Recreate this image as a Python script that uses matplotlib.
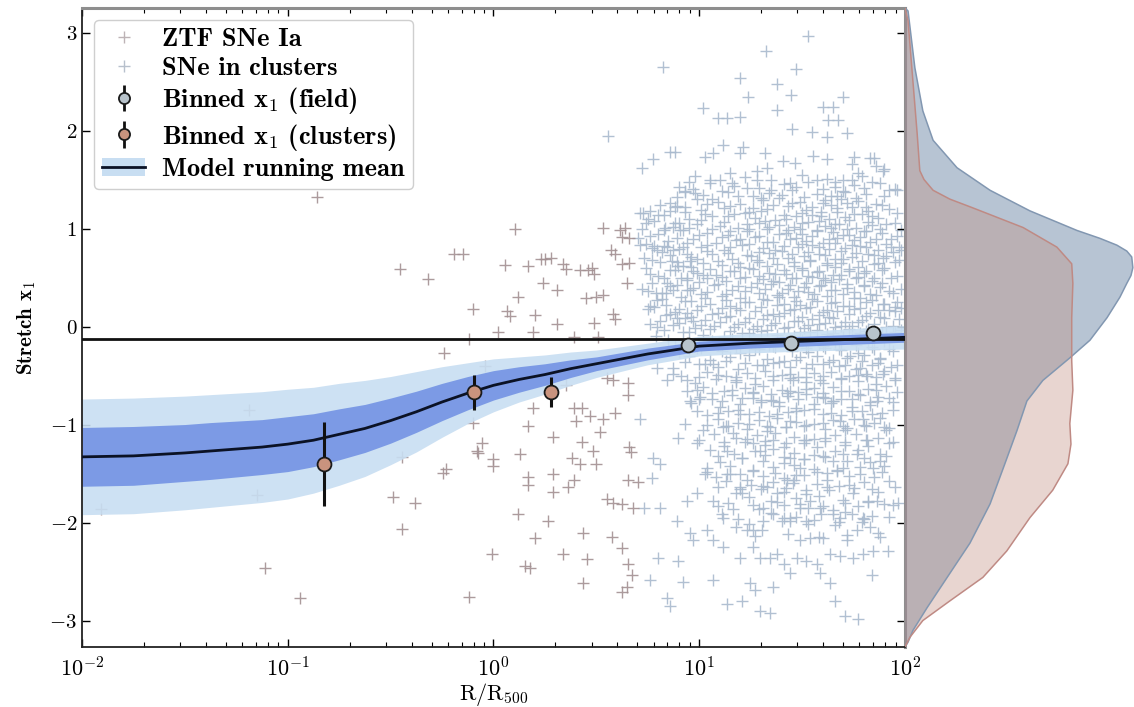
import numpy as np
import matplotlib
matplotlib.use("Agg")
import matplotlib.pyplot as plt
from matplotlib.ticker import FuncFormatter, LogLocator, NullFormatter
from matplotlib.patches import Patch
from matplotlib.lines import Line2D

plt.rcParams['font.family'] = 'cmb10'
plt.rcParams['mathtext.fontset'] = 'cm'
plt.rcParams['axes.unicode_minus'] = False
plt.rcParams['axes.formatter.use_mathtext'] = True

# ---- SNe in / near clusters: (log10 R/R500, x1) ----
cluster_pts = [
    (-0.86, 1.32), (-0.455, 0.59), (-0.32, 0.48), (-0.19, 0.74), (-0.15, 0.74),
    (-0.10, 0.18), (-0.12, -0.13), (-0.24, -0.27), (-1.19, -0.85), (-0.10, -0.98),
    (-0.445, -1.33), (-0.23, -1.45), (-0.245, -1.49), (-0.08, -1.27), (-1.15, -1.72),
    (-1.91, -1.86), (-0.49, -1.74), (-0.38, -1.80), (-0.445, -2.07), (-1.11, -2.46),
    (-0.94, -2.77), (-0.12, -2.76),
    (0.105, 1.00), (0.056, 0.63), (0.17, 0.62), (0.23, 0.69), (0.25, 0.69), (0.28, 0.70),
    (0.34, 0.64), (0.35, 0.59), (0.42, 0.58), (0.46, 0.58), (0.48, 0.60), (0.49, 0.54),
    (0.53, 1.01), (0.615, 0.98), (0.64, 1.01), (0.625, 0.91), (0.66, 0.90), (0.57, 0.78),
    (0.59, 0.74), (0.625, 0.64), (0.66, 0.65), (0.24, 0.44), (0.31, 0.37), (0.12, 0.30),
    (0.066, 0.16), (0.08, 0.11), (0.20, 0.12), (0.31, 0.03), (0.45, 0.29), (0.50, 0.30),
    (0.53, 0.32), (0.49, 0.04), (0.58, 0.13), (0.59, 0.08), (0.65, 0.44),
    (0.02, -0.06), (0.19, -0.06), (0.39, -0.11), (0.51, -0.11), (-0.04, -0.40),
    (0.55, -0.53), (0.58, -0.55), (0.655, -0.58), (0.655, -0.70), (0.35, -0.60),
    (0.19, -0.83), (0.39, -0.83), (0.43, -0.83), (0.47, -0.91), (0.59, -0.88),
    (0.53, -0.94), (0.17, -1.01), (0.40, -0.96), (0.52, -1.08), (-0.056, -1.19),
    (-0.075, -1.29), (0.0, -1.35), (0.0, -1.42), (0.13, -1.30), (0.29, -1.13),
    (0.43, -1.18), (0.485, -1.27), (0.50, -1.40), (0.38, -1.34), (0.42, -1.40),
    (0.17, -1.54), (0.17, -1.62), (0.29, -1.50), (0.29, -1.69), (0.36, -1.64),
    (0.39, -1.57), (0.66, -1.23), (0.67, -1.28), (0.655, -1.57), (0.70, -1.59),
    (0.12, -1.91), (0.265, -1.98), (0.55, -1.76), (0.58, -1.80), (0.625, -1.81),
    (0.68, -1.85), (0.20, -2.16), (0.435, -2.11), (0.576, -2.15), (0.625, -2.26),
    (-0.007, -2.32), (0.153, -2.44), (0.177, -2.46), (0.338, -2.32), (0.454, -2.37),
    (0.655, -2.42), (0.673, -2.54), (0.649, -2.66), (0.625, -2.71), (0.435, -2.62),
]

# ---- field SNe Ia: (log10 R/R500, x1) ----
field_pts = [
    # sparse upper tail
    (1.53, 2.96), (1.325, 2.81), (0.824, 2.65), (1.20, 2.54), (1.47, 2.63), (1.378, 2.47),
    (1.237, 2.34), (1.446, 2.36), (1.70, 2.34), (1.018, 2.23), (1.09, 2.13), (1.135, 2.13),
    (1.20, 2.14), (1.378, 2.21), (1.60, 2.24), (1.65, 2.24), (1.626, 2.11), (1.674, 2.11),
    (1.45, 2.02), (1.548, 1.98), (1.62, 1.93), (1.718, 1.97), (0.557, 1.94), (1.115, 1.85),
    (1.212, 1.83), (0.882, 1.78), (0.858, 1.78), (1.067, 1.77), (1.028, 1.73), (0.775, 1.71),
    (0.72, 1.62), (1.32, 1.77), (1.407, 1.69), (1.465, 1.67), (1.553, 1.74), (1.62, 1.71),
    (1.75, 1.73), (1.83, 1.72), (1.85, 1.72), (1.90, 1.61), (1.77, 1.57), (1.95, 1.40),
    (1.20, 1.77), (1.33, 1.62), (1.15, 1.57), (1.28, 1.59), (1.74, 1.66), (1.86, 1.64),
    # dense core
    (0.98, 1.54), (1.10, 1.50), (1.22, 1.53), (1.35, 1.49), (1.50, 1.55), (1.62, 1.51), (1.70, 1.49), (1.79, 1.54),
    (0.90, 1.42), (1.05, 1.46), (1.17, 1.43), (1.29, 1.41), (1.41, 1.45), (1.53, 1.47), (1.66, 1.42), (1.75, 1.44), (1.88, 1.46),
    (0.93, 1.38), (1.02, 1.34), (1.14, 1.37), (1.26, 1.33), (1.34, 1.36), (1.45, 1.39), (1.57, 1.35), (1.64, 1.33), (1.71, 1.37), (1.81, 1.35),
    (0.86, 1.26), (0.99, 1.30), (1.09, 1.27), (1.20, 1.25), (1.31, 1.29), (1.39, 1.31), (1.49, 1.27), (1.60, 1.26), (1.69, 1.30), (1.77, 1.28), (1.86, 1.25),
    (0.76, 1.18), (0.88, 1.22), (1.01, 1.19), (1.12, 1.21), (1.24, 1.17), (1.33, 1.20), (1.43, 1.23), (1.52, 1.19), (1.59, 1.17), (1.67, 1.21), (1.74, 1.22), (1.82, 1.18), (1.92, 1.20),
    (0.83, 1.14), (0.95, 1.10), (1.06, 1.13), (1.17, 1.15), (1.27, 1.11), (1.37, 1.09), (1.47, 1.13), (1.55, 1.14), (1.63, 1.10), (1.71, 1.12), (1.79, 1.15), (1.87, 1.11),
    (0.74, 1.06), (0.87, 1.02), (0.99, 1.05), (1.10, 1.03), (1.19, 1.01), (1.29, 1.06), (1.39, 1.04), (1.46, 1.02), (1.53, 1.07), (1.61, 1.03), (1.68, 1.05), (1.76, 1.01), (1.84, 1.04), (1.95, 1.06),
    (0.80, 0.94), (0.92, 0.98), (1.04, 0.95), (1.14, 0.93), (1.23, 0.97), (1.33, 0.99), (1.42, 0.95), (1.50, 0.94), (1.57, 0.98), (1.65, 0.96), (1.73, 0.93), (1.81, 0.97), (1.89, 0.95),
    (0.70, 0.90), (0.85, 0.87), (0.97, 0.89), (1.08, 0.85), (1.18, 0.88), (1.27, 0.91), (1.36, 0.86), (1.44, 0.89), (1.52, 0.87), (1.60, 0.85), (1.67, 0.90), (1.75, 0.88), (1.83, 0.86), (1.93, 0.89),
    (0.78, 0.82), (0.90, 0.79), (1.01, 0.81), (1.12, 0.78), (1.21, 0.83), (1.31, 0.80), (1.40, 0.77), (1.48, 0.81), (1.55, 0.83), (1.63, 0.79), (1.71, 0.80), (1.78, 0.82), (1.87, 0.78), (1.97, 0.81),
    (0.73, 0.70), (0.86, 0.73), (0.96, 0.71), (1.06, 0.74), (1.16, 0.69), (1.25, 0.72), (1.34, 0.75), (1.43, 0.70), (1.51, 0.72), (1.58, 0.74), (1.66, 0.69), (1.74, 0.71), (1.82, 0.74), (1.91, 0.72),
    (0.81, 0.66), (0.92, 0.62), (1.02, 0.65), (1.11, 0.63), (1.20, 0.61), (1.29, 0.66), (1.38, 0.64), (1.46, 0.62), (1.54, 0.67), (1.62, 0.63), (1.69, 0.65), (1.77, 0.61), (1.85, 0.64), (1.95, 0.66),
    (0.76, 0.54), (0.88, 0.58), (0.99, 0.55), (1.08, 0.53), (1.17, 0.57), (1.26, 0.59), (1.34, 0.55), (1.42, 0.54), (1.50, 0.58), (1.57, 0.56), (1.65, 0.53), (1.73, 0.57), (1.80, 0.55), (1.89, 0.58),
    (0.83, 0.50), (0.94, 0.47), (1.04, 0.49), (1.13, 0.46), (1.22, 0.51), (1.31, 0.48), (1.39, 0.45), (1.47, 0.49), (1.55, 0.51), (1.61, 0.47), (1.68, 0.48), (1.76, 0.50), (1.84, 0.46), (1.93, 0.49),
    (0.72, 0.38), (0.86, 0.41), (0.97, 0.39), (1.07, 0.42), (1.16, 0.37), (1.25, 0.40), (1.35, 0.43), (1.43, 0.38), (1.51, 0.40), (1.59, 0.42), (1.66, 0.37), (1.72, 0.39), (1.80, 0.42), (1.88, 0.40), (1.98, 0.38),
    (0.79, 0.34), (0.91, 0.30), (1.01, 0.33), (1.11, 0.31), (1.20, 0.29), (1.29, 0.34), (1.38, 0.32), (1.46, 0.30), (1.53, 0.35), (1.62, 0.31), (1.70, 0.33), (1.78, 0.29), (1.86, 0.32), (1.94, 0.34),
    (0.84, 0.22), (0.96, 0.26), (1.05, 0.23), (1.15, 0.21), (1.24, 0.25), (1.33, 0.27), (1.41, 0.23), (1.49, 0.22), (1.57, 0.26), (1.64, 0.24), (1.73, 0.21), (1.81, 0.25), (1.90, 0.23),
    (0.75, 0.18), (0.88, 0.15), (0.99, 0.17), (1.09, 0.14), (1.18, 0.19), (1.27, 0.16), (1.36, 0.13), (1.44, 0.17), (1.52, 0.19), (1.60, 0.15), (1.67, 0.16), (1.75, 0.18), (1.83, 0.14), (1.92, 0.17),
    (0.81, 0.06), (0.93, 0.09), (1.03, 0.07), (1.13, 0.10), (1.22, 0.05), (1.31, 0.08), (1.39, 0.11), (1.48, 0.06), (1.55, 0.08), (1.63, 0.10), (1.71, 0.05), (1.79, 0.07), (1.88, 0.10), (1.97, 0.08),
    (0.87, 0.02), (0.98, -0.02), (1.07, 0.01), (1.17, -0.01), (1.26, -0.03), (1.35, 0.02), (1.43, 0.00), (1.51, -0.02), (1.58, 0.03), (1.66, -0.01), (1.74, 0.01), (1.82, -0.03), (1.91, 0.00),
    (0.79, -0.10), (0.92, -0.06), (1.02, -0.09), (1.12, -0.11), (1.21, -0.07), (1.30, -0.05), (1.38, -0.09), (1.46, -0.10), (1.54, -0.06), (1.62, -0.08), (1.70, -0.11), (1.78, -0.07), (1.86, -0.09), (1.95, -0.06),
    (0.85, -0.14), (0.96, -0.18), (1.06, -0.15), (1.16, -0.13), (1.25, -0.17), (1.34, -0.19), (1.42, -0.15), (1.50, -0.14), (1.58, -0.18), (1.66, -0.16), (1.74, -0.13), (1.82, -0.17), (1.90, -0.15),
    (0.90, -0.26), (1.01, -0.22), (1.11, -0.25), (1.20, -0.27), (1.29, -0.23), (1.37, -0.21), (1.45, -0.25), (1.53, -0.26), (1.61, -0.22), (1.69, -0.24), (1.77, -0.27), (1.85, -0.23), (1.94, -0.25),
    (0.95, -0.30), (1.05, -0.34), (1.15, -0.31), (1.24, -0.29), (1.33, -0.33), (1.41, -0.35), (1.49, -0.31), (1.57, -0.30), (1.65, -0.34), (1.72, -0.32), (1.80, -0.29), (1.88, -0.33),
    (0.87, -0.42), (1.00, -0.38), (1.09, -0.41), (1.19, -0.43), (1.28, -0.39), (1.36, -0.37), (1.44, -0.41), (1.52, -0.42), (1.60, -0.38), (1.68, -0.40), (1.76, -0.43), (1.84, -0.39), (1.93, -0.41),
    (1.04, -0.46), (1.13, -0.50), (1.23, -0.47), (1.32, -0.45), (1.40, -0.49), (1.48, -0.51), (1.56, -0.47), (1.64, -0.46), (1.73, -0.50), (1.81, -0.48), (1.90, -0.45),
    (0.98, -0.58), (1.08, -0.54), (1.18, -0.57), (1.27, -0.59), (1.36, -0.55), (1.44, -0.53), (1.52, -0.57), (1.60, -0.58), (1.69, -0.54), (1.77, -0.56), (1.86, -0.59), (1.95, -0.55),
    (1.02, -0.62), (1.12, -0.66), (1.22, -0.63), (1.31, -0.61), (1.40, -0.65), (1.48, -0.67), (1.56, -0.63), (1.65, -0.62), (1.73, -0.66), (1.82, -0.64), (1.91, -0.61),
    (1.06, -0.74), (1.16, -0.70), (1.26, -0.73), (1.35, -0.75), (1.43, -0.71), (1.52, -0.69), (1.61, -0.73), (1.69, -0.74), (1.78, -0.70), (1.87, -0.72),
    (0.96, -0.78), (1.10, -0.82), (1.20, -0.79), (1.30, -0.77), (1.39, -0.81), (1.47, -0.83), (1.56, -0.79), (1.64, -0.78), (1.74, -0.82), (1.83, -0.80), (1.94, -0.77),
    (1.04, -0.90), (1.14, -0.86), (1.24, -0.89), (1.34, -0.91), (1.43, -0.87), (1.51, -0.85), (1.60, -0.89), (1.69, -0.90), (1.79, -0.86), (1.89, -0.88),
    (1.09, -0.94), (1.19, -0.98), (1.29, -0.95), (1.38, -0.93), (1.47, -0.97), (1.56, -0.99), (1.65, -0.95), (1.75, -0.94), (1.85, -0.98),
    (1.02, -1.06), (1.13, -1.02), (1.23, -1.05), (1.33, -1.07), (1.42, -1.03), (1.51, -1.01), (1.61, -1.05), (1.71, -1.06), (1.81, -1.02), (1.92, -1.04),
    (1.07, -1.10), (1.18, -1.14), (1.28, -1.11), (1.37, -1.09), (1.46, -1.13), (1.56, -1.15), (1.66, -1.11), (1.76, -1.10), (1.87, -1.14),
    (1.12, -1.22), (1.22, -1.18), (1.32, -1.21), (1.41, -1.23), (1.51, -1.19), (1.61, -1.17), (1.71, -1.21), (1.82, -1.22), (1.94, -1.18),
    (1.05, -1.26), (1.17, -1.30), (1.27, -1.27), (1.36, -1.25), (1.46, -1.29), (1.56, -1.31), (1.66, -1.27), (1.77, -1.26), (1.88, -1.30),
    (1.10, -1.38), (1.21, -1.34), (1.31, -1.37), (1.41, -1.39), (1.51, -1.35), (1.61, -1.33), (1.72, -1.37), (1.83, -1.38),
    (1.15, -1.42), (1.26, -1.46), (1.36, -1.43), (1.46, -1.41), (1.56, -1.45), (1.67, -1.47), (1.78, -1.43), (1.90, -1.42),
    (1.08, -1.54), (1.20, -1.50), (1.31, -1.53), (1.41, -1.55), (1.51, -1.51), (1.62, -1.49), (1.73, -1.53), (1.85, -1.54),
    (1.13, -1.58), (1.25, -1.62), (1.36, -1.59), (1.46, -1.57), (1.57, -1.61), (1.68, -1.63), (1.80, -1.59), (1.92, -1.58),
    (1.18, -1.70), (1.30, -1.66), (1.41, -1.69), (1.52, -1.71), (1.63, -1.67), (1.75, -1.65), (1.87, -1.69),
    (1.24, -1.74), (1.35, -1.78), (1.47, -1.75), (1.58, -1.73), (1.70, -1.77), (1.82, -1.79),
    (1.29, -1.86), (1.41, -1.82), (1.53, -1.85), (1.65, -1.87), (1.77, -1.83), (1.90, -1.81),
    (1.35, -1.90), (1.47, -1.94), (1.59, -1.91), (1.71, -1.89), (1.84, -1.93),
    (1.24, -2.02), (1.40, -1.98), (1.53, -2.01), (1.66, -2.03), (1.79, -1.99),
    # second layer of the core
    (0.95, 1.47), (1.05, 1.50), (1.16, 1.46), (1.28, 1.49), (1.44, 1.46), (1.57, 1.50), (1.66, 1.47), (1.74, 1.49), (1.84, 1.47),
    (0.97, 1.40), (1.11, 1.38), (1.23, 1.41), (1.35, 1.39), (1.47, 1.42), (1.60, 1.40), (1.70, 1.38), (1.80, 1.41), (1.92, 1.39),
    (0.89, 1.32), (1.06, 1.30), (1.19, 1.33), (1.30, 1.31), (1.40, 1.34), (1.51, 1.32), (1.61, 1.29), (1.67, 1.33), (1.76, 1.31), (1.90, 1.33),
    (0.81, 1.24), (0.93, 1.22), (1.04, 1.25), (1.15, 1.23), (1.26, 1.21), (1.36, 1.24), (1.45, 1.26), (1.55, 1.22), (1.64, 1.24), (1.72, 1.26), (1.81, 1.22), (1.89, 1.24),
    (0.71, 1.16), (0.80, 1.14), (0.93, 1.17), (1.03, 1.15), (1.14, 1.13), (1.22, 1.16), (1.30, 1.18), (1.41, 1.14), (1.50, 1.16), (1.59, 1.13), (1.67, 1.17), (1.75, 1.15), (1.84, 1.13), (1.96, 1.16),
    (0.78, 1.08), (0.90, 1.06), (1.01, 1.09), (1.12, 1.07), (1.23, 1.05), (1.32, 1.08), (1.42, 1.10), (1.50, 1.06), (1.58, 1.08), (1.66, 1.05), (1.73, 1.09), (1.82, 1.07), (1.91, 1.05),
    (0.72, 1.00), (0.83, 0.98), (0.95, 1.01), (1.06, 0.99), (1.15, 0.97), (1.24, 1.00), (1.34, 1.02), (1.43, 0.98), (1.49, 1.00), (1.57, 0.97), (1.64, 1.01), (1.72, 0.99), (1.80, 0.97), (1.88, 1.00), (1.98, 0.98),
    (0.76, 0.92), (0.89, 0.90), (1.00, 0.93), (1.11, 0.91), (1.20, 0.89), (1.29, 0.92), (1.39, 0.94), (1.47, 0.90), (1.55, 0.92), (1.63, 0.89), (1.70, 0.93), (1.78, 0.91), (1.86, 0.89), (1.96, 0.92),
    (0.74, 0.84), (0.83, 0.82), (0.94, 0.85), (1.04, 0.83), (1.15, 0.81), (1.24, 0.84), (1.33, 0.86), (1.41, 0.82), (1.50, 0.84), (1.58, 0.81), (1.66, 0.85), (1.74, 0.83), (1.81, 0.81), (1.91, 0.84),
    (0.82, 0.76), (0.94, 0.74), (1.04, 0.77), (1.14, 0.75), (1.23, 0.73), (1.29, 0.76), (1.37, 0.78), (1.45, 0.74), (1.53, 0.76), (1.61, 0.73), (1.69, 0.77), (1.76, 0.75), (1.85, 0.73), (1.94, 0.76),
    (0.77, 0.68), (0.89, 0.66), (0.99, 0.69), (1.09, 0.67), (1.19, 0.65), (1.28, 0.68), (1.36, 0.70), (1.46, 0.66), (1.54, 0.68), (1.62, 0.65), (1.70, 0.69), (1.79, 0.67), (1.87, 0.65), (1.97, 0.68),
    (0.74, 0.60), (0.86, 0.58), (0.96, 0.61), (1.05, 0.59), (1.15, 0.57), (1.24, 0.60), (1.33, 0.62), (1.41, 0.58), (1.50, 0.60), (1.58, 0.57), (1.66, 0.61), (1.73, 0.59), (1.81, 0.57), (1.90, 0.60),
    (0.80, 0.52), (0.91, 0.50), (1.02, 0.53), (1.11, 0.51), (1.20, 0.49), (1.29, 0.52), (1.37, 0.54), (1.45, 0.50), (1.53, 0.52), (1.60, 0.49), (1.69, 0.53), (1.77, 0.51), (1.85, 0.49), (1.96, 0.52),
    (0.77, 0.44), (0.89, 0.42), (1.00, 0.45), (1.09, 0.43), (1.19, 0.41), (1.28, 0.44), (1.36, 0.46), (1.44, 0.42), (1.52, 0.44), (1.58, 0.41), (1.64, 0.45), (1.72, 0.43), (1.80, 0.41), (1.89, 0.44),
    (0.75, 0.36), (0.84, 0.34), (0.94, 0.37), (1.04, 0.35), (1.13, 0.33), (1.22, 0.36), (1.32, 0.38), (1.40, 0.34), (1.48, 0.36), (1.56, 0.33), (1.64, 0.37), (1.75, 0.35), (1.83, 0.33), (1.92, 0.36),
    (0.82, 0.28), (0.93, 0.26), (1.03, 0.29), (1.13, 0.27), (1.22, 0.25), (1.31, 0.28), (1.39, 0.30), (1.47, 0.26), (1.55, 0.28), (1.66, 0.25), (1.75, 0.29), (1.84, 0.27), (1.96, 0.25),
    (0.78, 0.20), (0.90, 0.18), (1.01, 0.21), (1.11, 0.19), (1.20, 0.17), (1.30, 0.20), (1.38, 0.22), (1.46, 0.18), (1.54, 0.20), (1.62, 0.17), (1.70, 0.21), (1.78, 0.19), (1.87, 0.17), (1.95, 0.20),
    (0.84, 0.12), (0.96, 0.10), (1.06, 0.13), (1.15, 0.11), (1.24, 0.09), (1.33, 0.12), (1.41, 0.14), (1.50, 0.10), (1.58, 0.12), (1.65, 0.09), (1.73, 0.13), (1.81, 0.11), (1.90, 0.09),
    (0.90, 0.04), (1.01, 0.02), (1.10, 0.05), (1.19, 0.03), (1.28, 0.01), (1.37, 0.04), (1.46, 0.06), (1.53, 0.02), (1.61, 0.04), (1.69, 0.01), (1.77, 0.05), (1.85, 0.03), (1.94, 0.01),
    (0.83, -0.04), (0.95, -0.06), (1.05, -0.03), (1.15, -0.05), (1.24, -0.07), (1.33, -0.04), (1.41, -0.02), (1.49, -0.06), (1.57, -0.04), (1.65, -0.07), (1.73, -0.03), (1.81, -0.05), (1.89, -0.07), (1.98, -0.04),
    (0.88, -0.20), (0.99, -0.22), (1.09, -0.19), (1.18, -0.21), (1.27, -0.23), (1.36, -0.20), (1.44, -0.18), (1.52, -0.22), (1.60, -0.20), (1.68, -0.23), (1.76, -0.19), (1.84, -0.21), (1.92, -0.23),
    (0.93, -0.36), (1.03, -0.38), (1.13, -0.35), (1.22, -0.37), (1.31, -0.39), (1.39, -0.36), (1.47, -0.34), (1.55, -0.38), (1.63, -0.36), (1.71, -0.39), (1.79, -0.35), (1.87, -0.37), (1.96, -0.39),
    (0.91, -0.50), (1.00, -0.52), (1.09, -0.49), (1.18, -0.51), (1.27, -0.53), (1.36, -0.50), (1.44, -0.48), (1.52, -0.52), (1.60, -0.50), (1.69, -0.53), (1.77, -0.49), (1.86, -0.51), (1.95, -0.53),
    (0.94, -0.66), (1.06, -0.68), (1.16, -0.65), (1.26, -0.67), (1.35, -0.69), (1.44, -0.66), (1.52, -0.64), (1.60, -0.68), (1.69, -0.66), (1.77, -0.69), (1.86, -0.65), (1.96, -0.67),
    (1.00, -0.74), (1.11, -0.76), (1.21, -0.73), (1.30, -0.75), (1.39, -0.77), (1.48, -0.74), (1.57, -0.72), (1.65, -0.76), (1.74, -0.74), (1.83, -0.77), (1.92, -0.73),
    (0.99, -0.86), (1.09, -0.88), (1.19, -0.85), (1.29, -0.87), (1.38, -0.89), (1.47, -0.86), (1.56, -0.84), (1.64, -0.88), (1.74, -0.86), (1.84, -0.89), (1.94, -0.85),
    (1.04, -1.00), (1.14, -1.02), (1.24, -0.99), (1.33, -1.01), (1.42, -1.03), (1.52, -1.00), (1.60, -0.98), (1.70, -1.02), (1.80, -1.00), (1.90, -1.03),
    (1.00, -1.16), (1.12, -1.18), (1.23, -1.15), (1.32, -1.17), (1.42, -1.19), (1.51, -1.16), (1.61, -1.14), (1.71, -1.18), (1.81, -1.16), (1.92, -1.19),
    (1.09, -1.32), (1.21, -1.34), (1.32, -1.31), (1.41, -1.33), (1.51, -1.35), (1.60, -1.32), (1.70, -1.30), (1.80, -1.34), (1.91, -1.32),
    (1.04, -1.48), (1.15, -1.50), (1.26, -1.47), (1.37, -1.49), (1.47, -1.51), (1.57, -1.48), (1.67, -1.46), (1.78, -1.50), (1.89, -1.48),
    (1.09, -1.64), (1.20, -1.66), (1.31, -1.63), (1.42, -1.65), (1.52, -1.67), (1.62, -1.64), (1.73, -1.62), (1.84, -1.66), (1.95, -1.64),
    (1.14, -1.80), (1.26, -1.82), (1.38, -1.79), (1.49, -1.81), (1.60, -1.83), (1.71, -1.80), (1.82, -1.78), (1.94, -1.82),
    (1.19, -1.96), (1.31, -1.98), (1.44, -1.95), (1.56, -1.97), (1.68, -1.99), (1.80, -1.96), (1.92, -1.94),
    (1.27, -2.14), (1.43, -2.12), (1.58, -2.15), (1.72, -2.13), (1.87, -2.11),
    # lower half, individually placed
    (0.71, -0.94), (0.73, -1.85), (0.81, -1.85), (0.76, -2.59), (0.843, -2.77), (0.858, -2.85),
    (0.80, -2.36), (0.897, -2.39), (0.92, -2.61),
    (0.93, -0.99), (0.897, -1.14), (0.99, -1.19), (0.775, -1.34), (0.81, -1.40), (0.77, -1.55),
    (1.04, -1.44), (1.03, -1.50), (1.135, -1.50), (0.99, -1.70), (0.94, -1.78), (1.067, -1.78),
    (1.09, -1.83), (1.11, -1.91), (1.115, -1.95), (0.89, -1.98), (0.955, -2.11), (0.97, -2.18),
    (1.04, -2.08), (1.165, -1.86), (1.18, -2.05), (1.23, -2.08), (1.26, -2.08), (1.305, -2.08),
    (1.067, -2.18), (1.115, -2.25), (1.20, -2.36), (1.26, -2.25), (1.295, -2.36), (1.344, -2.36),
    (1.378, -2.32), (1.41, -2.42), (1.44, -2.52), (1.475, -2.36), (1.52, -2.39), (1.57, -2.42),
    (1.49, -2.18), (1.54, -2.16), (1.60, -2.16), (1.587, -2.52), (1.635, -2.62), (1.66, -2.80),
    (1.71, -2.95), (1.77, -2.98), (1.295, -2.90), (1.344, -2.92), (1.135, -2.83), (1.21, -2.80),
    (1.247, -2.62), (1.27, -2.69), (1.36, -2.66), (1.067, -2.59), (1.635, -2.32), (1.684, -2.34),
    (1.747, -2.36), (1.796, -2.32), (1.845, -2.29), (1.918, -2.29), (1.84, -2.54), (1.88, -2.15),
    (1.718, -2.18), (1.767, -2.08), (1.796, -1.95), (1.684, -1.95), (1.742, -1.91), (1.966, -1.80),
    (1.845, -1.44), (1.88, -1.37), (1.767, -1.30), (1.88, -0.93), (1.796, -0.94), (1.684, -0.96),
    (1.718, -1.04), (1.864, -0.76), (1.88, -0.32), (1.893, -0.48), (1.78, -0.42), (1.815, -0.50),
    (1.733, -0.30), (1.60, -0.72), (1.65, -0.76), (1.587, -0.55), (1.456, -0.55), (1.427, -0.68),
    (1.36, -0.76), (1.44, -0.96), (1.344, -1.03), (1.36, -1.16), (1.26, -1.19), (1.295, -1.27),
    (1.52, -1.16), (1.57, -1.23), (1.44, -1.34), (1.49, -1.44), (1.427, -1.57), (1.456, -1.60),
    (1.23, -1.57), (1.20, -1.64), (1.21, -1.70), (1.54, -1.78), (1.587, -1.85), (1.65, -1.91),
    (1.31, -1.85), (1.36, -1.91), (1.41, -1.95), (1.44, -1.98), (1.165, -1.09), (1.135, -1.27),
    (1.115, -1.03), (1.20, -0.89), (1.26, -0.68), (1.004, -0.72), (0.955, -0.76), (0.872, -0.48),
    (0.94, -0.55), (0.99, -0.65), (0.795, -0.42), (0.843, -0.55), (1.067, -0.38), (1.18, -0.55),
    (1.91, -1.06), (1.62, -1.57), (1.747, -1.70), (1.52, -1.98), (1.83, -2.05), (1.864, -1.78),
    (1.815, -1.16), (1.65, -1.37), (1.70, -1.44), (1.33, -1.64), (1.378, -1.70), (1.49, -1.85),
    # upper half, individually placed
    (0.93, 1.37), (0.98, 1.36), (0.858, 1.18), (0.89, 1.23), (0.727, 1.16), (0.75, 1.10),
    (0.834, 1.01), (0.882, 1.06), (0.906, 0.98), (0.712, 0.83), (0.77, 0.80), (0.795, 0.78),
    (0.843, 0.81), (0.872, 0.78), (0.92, 0.81), (0.868, 0.67), (0.897, 0.62), (0.955, 0.67),
    (0.97, 0.57), (0.843, 0.44), (0.872, 0.37), (0.82, 0.34), (0.94, 0.50), (0.955, 0.37),
    (0.76, 0.21), (0.795, 0.27), (0.858, 0.13), (0.89, 0.09), (0.94, 0.14), (0.97, 0.06),
    (0.76, 0.03), (0.795, -0.01), (1.93, 0.81), (1.98, 0.78), (1.893, 0.70), (1.98, 0.19),
    (1.95, 0.16), (1.893, 0.23), (1.96, 1.39), (1.893, 1.59),
]

# ---- binned means ----
field_bin_r = [8.8, 28.0, 70.0]
field_bin_x1 = [-0.19, -0.17, -0.07]
field_bin_err = [0.04, 0.04, 0.04]
clus_bin_r = [0.15, 0.80, 1.90]
clus_bin_x1 = [-1.40, -0.67, -0.67]
clus_bin_err = [0.43, 0.18, 0.15]

# ---- model running mean with 1 and 2 sigma bands ----
model_logr = [-2.0, -1.875, -1.75, -1.625, -1.5, -1.375, -1.25, -1.125, -1.0, -0.875,
              -0.75, -0.625, -0.5, -0.375, -0.25, -0.125, 0.0, 0.125, 0.25, 0.375,
              0.5, 0.625, 0.75, 0.875, 1.0, 1.25, 1.5, 1.75, 2.0]
model_mean = [-1.33, -1.325, -1.32, -1.305, -1.29, -1.27, -1.25, -1.23, -1.20, -1.16,
              -1.10, -1.04, -0.96, -0.87, -0.77, -0.68, -0.60, -0.54, -0.49, -0.43,
              -0.38, -0.33, -0.28, -0.24, -0.20, -0.17, -0.15, -0.13, -0.11]
model_sig1 = [0.30, 0.30, 0.30, 0.295, 0.29, 0.29, 0.285, 0.28, 0.28, 0.27,
              0.26, 0.245, 0.23, 0.21, 0.19, 0.17, 0.15, 0.13, 0.11, 0.09,
              0.07, 0.065, 0.06, 0.055, 0.05, 0.05, 0.05, 0.05, 0.05]
model_sig2 = [0.59, 0.59, 0.59, 0.585, 0.58, 0.575, 0.57, 0.565, 0.56, 0.54,
              0.52, 0.49, 0.45, 0.41, 0.36, 0.31, 0.27, 0.23, 0.20, 0.17,
              0.14, 0.125, 0.11, 0.105, 0.10, 0.10, 0.10, 0.11, 0.12]
field_mean_x1 = -0.13

# ---- marginal x1 densities ----
kde_field_y = [3.25, 3.22, 2.64, 2.20, 1.90, 1.62, 1.39, 1.18, 0.98, 0.90, 0.83, 0.77, 0.71,
               0.60, 0.52, 0.44, 0.30, 0.09, -0.14, -0.32, -0.55, -0.76, -1.06, -1.40,
               -1.81, -2.21, -2.56, -2.87, -3.10, -3.22, -3.27]
kde_field_d = [0.0, 0.008, 0.026, 0.047, 0.074, 0.137, 0.224, 0.329, 0.453, 0.513, 0.558, 0.584, 0.597,
               0.600, 0.595, 0.584, 0.566, 0.532, 0.487, 0.434, 0.363, 0.321, 0.295, 0.263,
               0.224, 0.171, 0.111, 0.058, 0.021, 0.008, 0.0]
kde_clus_y = [3.25, 3.12, 2.64, 1.97, 1.59, 1.50, 1.39, 1.30, 1.21, 1.11, 1.01, 0.81, 0.64,
              0.44, 0.09, -0.35, -0.65, -0.99, -1.20, -1.40, -1.67, -1.95, -2.29, -2.56,
              -2.80, -3.00, -3.17, -3.27]
kde_clus_d = [0.0, 0.008, 0.018, 0.032, 0.039, 0.050, 0.074, 0.118, 0.179, 0.245, 0.311, 0.400, 0.439,
              0.442, 0.439, 0.439, 0.442, 0.434, 0.437, 0.429, 0.389, 0.329, 0.268, 0.205,
              0.118, 0.047, 0.013, 0.0]

c_field = '#a9bace'
c_clus = '#a39092'
c_band1 = '#7393e4'
c_band2 = '#c8def2'

fig = plt.figure(figsize=(11.34, 7.07), dpi=100)
W, H = 1134.0, 707.0
ax = fig.add_axes([82 / W, 1 - 647 / H, (905 - 82) / W, (647 - 8) / H])
axk = fig.add_axes([905 / W, 1 - 647 / H, 229 / W, (647 - 8) / H])

fp = np.array(field_pts)
cp = np.array(cluster_pts)
ax.plot(10 ** fp[:, 0], fp[:, 1], '+', ls='none', ms=8.5, mew=1.0, color=c_field,
        alpha=0.9, zorder=1)
ax.plot(10 ** cp[:, 0], cp[:, 1], '+', ls='none', ms=8.5, mew=1.0, color=c_clus,
        alpha=0.9, zorder=1)

r_mod = 10 ** np.array(model_logr)
mu = np.array(model_mean)
s1 = np.array(model_sig1)
s2 = np.array(model_sig2)
ax.fill_between(r_mod, mu - s2, mu + s2, color=c_band2, alpha=0.9, lw=0, zorder=2)
ax.fill_between(r_mod, mu - s1, mu + s1, color=c_band1, alpha=0.9, lw=0, zorder=2)
ax.plot(r_mod, mu, color='#0b1225', lw=2, zorder=3)
ax.axhline(field_mean_x1, color='#111111', lw=2, zorder=3)

ax.errorbar(clus_bin_r, clus_bin_x1, yerr=clus_bin_err, fmt='o', ms=10, mfc='#c9937e',
            mec='#1a1a1a', mew=1.3, ecolor='#111111', elinewidth=2.2, capsize=0, zorder=5)
ax.errorbar(field_bin_r, field_bin_x1, yerr=field_bin_err, fmt='o', ms=10, mfc='#b8c3cb',
            mec='#1a1a1a', mew=1.3, ecolor='#111111', elinewidth=2.2, capsize=0, zorder=5)

ax.set_xscale('log')
ax.set_xlim(1e-2, 1e2)
ax.set_ylim(-3.27, 3.25)
ax.set_yticks([-3, -2, -1, 0, 1, 2, 3])
ax.yaxis.set_major_formatter(FuncFormatter(lambda v, p: r'$\mathbf{%d}$' % v))
ax.xaxis.set_major_locator(LogLocator(base=10, numticks=10))
ax.xaxis.set_major_formatter(
    FuncFormatter(lambda v, p: r'$\mathrm{10^{%d}}$' % int(round(np.log10(v)))))
ax.xaxis.set_minor_locator(LogLocator(base=10, subs=np.arange(2, 10), numticks=20))
ax.xaxis.set_minor_formatter(NullFormatter())
ax.tick_params(which='both', direction='in', top=True, right=True, labelsize=15)
ax.tick_params(which='major', length=6, width=1)
ax.tick_params(which='minor', length=3.5, width=0.8)
ax.tick_params(axis='x', labelsize=16, pad=7)

for side in ['left', 'bottom']:
    ax.spines[side].set_color('#222222')
    ax.spines[side].set_linewidth(1.3)
for side in ['top', 'right']:
    ax.spines[side].set_color('#8e8e8e')
    ax.spines[side].set_linewidth(2.2)

ax.set_xlabel(r'$\mathrm{R/R_{500}}$', fontsize=16, labelpad=0)
ax.set_ylabel(r'Stretch $\mathbf{x}_\mathbf{1}$', fontsize=15, labelpad=8)

handles = [
    Line2D([], [], marker='+', ls='none', ms=8, mew=1.0, color='#bdb3b6'),
    Line2D([], [], marker='+', ls='none', ms=8, mew=1.0, color='#b7c0cc'),
    ax.errorbar([], [], yerr=[], fmt='o', ms=8, mfc='#b8c3cb', mec='#1a1a1a', mew=1.3,
                ecolor='#111111', elinewidth=2),
    ax.errorbar([], [], yerr=[], fmt='o', ms=8, mfc='#c9937e', mec='#1a1a1a', mew=1.3,
                ecolor='#111111', elinewidth=2),
    (Patch(facecolor=c_band2, edgecolor='none'), Line2D([], [], color='#0b1225', lw=2)),
]
labels = ['ZTF SNe Ia', 'SNe in clusters', r'Binned $\mathbf{x}_\mathbf{1}$ (field)',
          r'Binned $\mathbf{x}_\mathbf{1}$ (clusters)', 'Model running mean']
leg = ax.legend(handles, labels, loc='upper left', fontsize=19, frameon=True,
                fancybox=True, framealpha=1, edgecolor='#cfcfcf', borderaxespad=0.45,
                handlelength=1.65, handletextpad=0.65, labelspacing=0.2, borderpad=0.3)

# marginal distributions
axk.fill_betweenx(kde_field_y, 0, kde_field_d, facecolor='#718ba9', alpha=0.5,
                  edgecolor='none')
axk.plot(kde_field_d, kde_field_y, color='#8297b1', lw=1.1)
axk.fill_betweenx(kde_clus_y, 0, kde_clus_d, facecolor='#c18e80', alpha=0.37,
                  edgecolor='none')
axk.plot(kde_clus_d, kde_clus_y, color='#bf8a84', lw=1.1)
axk.set_ylim(ax.get_ylim())
axk.set_xlim(0, 0.603)
axk.axis('off')

fig.savefig('out.png', dpi=100)
